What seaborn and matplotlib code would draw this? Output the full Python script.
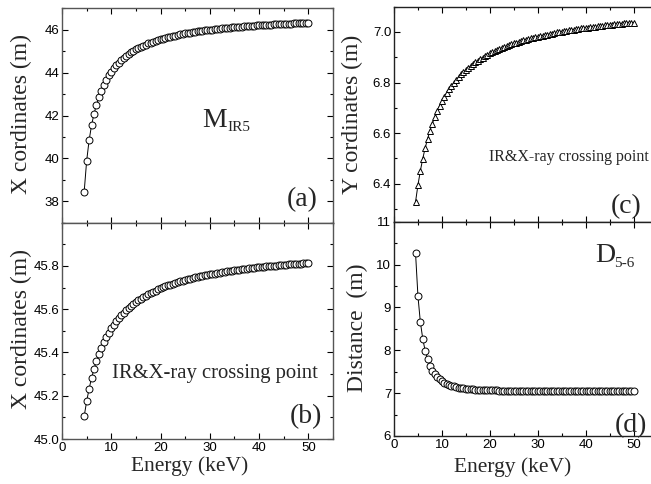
import matplotlib
matplotlib.use('Agg')
import matplotlib.pyplot as plt
import seaborn as sns
from matplotlib.ticker import MultipleLocator, FormatStrFormatter

sns.set_style('ticks')
plt.rcParams['font.family'] = ['Liberation Sans', 'DejaVu Sans']

# ---------------- data ----------------
energy = [4.5, 5.0, 5.5, 6.0, 6.5, 7.0, 7.5, 8.0, 8.5, 9.0,
          9.5, 10.0, 10.5, 11.0, 11.5, 12.0, 12.5, 13.0, 13.5, 14.0,
          14.5, 15.0, 15.5, 16.0, 16.5, 17.0, 17.5, 18.0, 18.5, 19.0,
          19.5, 20.0, 20.5, 21.0, 21.5, 22.0, 22.5, 23.0, 23.5, 24.0,
          24.5, 25.0, 25.5, 26.0, 26.5, 27.0, 27.5, 28.0, 28.5, 29.0,
          29.5, 30.0, 30.5, 31.0, 31.5, 32.0, 32.5, 33.0, 33.5, 34.0,
          34.5, 35.0, 35.5, 36.0, 36.5, 37.0, 37.5, 38.0, 38.5, 39.0,
          39.5, 40.0, 40.5, 41.0, 41.5, 42.0, 42.5, 43.0, 43.5, 44.0,
          44.5, 45.0, 45.5, 46.0, 46.5, 47.0, 47.5, 48.0, 48.5, 49.0,
          49.5, 50.0]

x_mir5 = [38.44, 39.88, 40.84, 41.55, 42.08, 42.51, 42.84, 43.16, 43.43, 43.66,
          43.87, 44.05, 44.20, 44.35, 44.47, 44.59, 44.69, 44.78, 44.87, 44.95,
          45.02, 45.09, 45.15, 45.21, 45.26, 45.31, 45.36, 45.40, 45.45, 45.49,
          45.52, 45.56, 45.59, 45.62, 45.65, 45.68, 45.71, 45.73, 45.76, 45.78,
          45.80, 45.83, 45.85, 45.87, 45.88, 45.90, 45.92, 45.94, 45.95, 45.97,
          45.98, 46.00, 46.01, 46.03, 46.04, 46.05, 46.06, 46.07, 46.09, 46.10,
          46.11, 46.12, 46.13, 46.14, 46.15, 46.16, 46.17, 46.17, 46.18, 46.19,
          46.20, 46.21, 46.21, 46.22, 46.23, 46.24, 46.24, 46.25, 46.26, 46.26,
          46.27, 46.28, 46.28, 46.29, 46.29, 46.30, 46.30, 46.31, 46.31, 46.32,
          46.32, 46.33]

x_cross = [45.105, 45.174, 45.232, 45.282, 45.324, 45.362, 45.394, 45.423, 45.449, 45.472,
           45.492, 45.511, 45.528, 45.544, 45.558, 45.572, 45.584, 45.595, 45.606, 45.616,
           45.625, 45.633, 45.641, 45.649, 45.656, 45.663, 45.669, 45.675, 45.681, 45.686,
           45.692, 45.697, 45.701, 45.706, 45.710, 45.714, 45.718, 45.722, 45.725, 45.729,
           45.732, 45.735, 45.738, 45.741, 45.744, 45.747, 45.749, 45.752, 45.754, 45.757,
           45.759, 45.761, 45.763, 45.765, 45.767, 45.769, 45.771, 45.773, 45.775, 45.777,
           45.778, 45.780, 45.781, 45.783, 45.785, 45.786, 45.787, 45.789, 45.790, 45.792,
           45.793, 45.794, 45.795, 45.796, 45.798, 45.799, 45.800, 45.801, 45.802, 45.803,
           45.804, 45.805, 45.806, 45.807, 45.808, 45.809, 45.810, 45.811, 45.811, 45.812,
           45.813, 45.814]

y_cross = [6.329, 6.395, 6.451, 6.499, 6.541, 6.577, 6.609, 6.638, 6.663, 6.686,
           6.707, 6.726, 6.743, 6.759, 6.773, 6.787, 6.799, 6.811, 6.822, 6.832,
           6.841, 6.850, 6.858, 6.866, 6.873, 6.880, 6.887, 6.893, 6.899, 6.904,
           6.910, 6.915, 6.920, 6.924, 6.929, 6.933, 6.937, 6.941, 6.944, 6.948,
           6.951, 6.955, 6.958, 6.961, 6.964, 6.967, 6.969, 6.972, 6.975, 6.977,
           6.980, 6.982, 6.984, 6.986, 6.988, 6.990, 6.992, 6.994, 6.996, 6.998,
           7.000, 7.001, 7.003, 7.005, 7.006, 7.008, 7.009, 7.011, 7.012, 7.014,
           7.015, 7.016, 7.017, 7.019, 7.020, 7.021, 7.022, 7.023, 7.025, 7.026,
           7.027, 7.028, 7.029, 7.030, 7.031, 7.032, 7.033, 7.034, 7.034, 7.035,
           7.036, 7.037]

distance = [10.26, 9.26, 8.66, 8.27, 7.99, 7.80, 7.64, 7.52, 7.44, 7.37,
            7.32, 7.28, 7.24, 7.21, 7.19, 7.17, 7.16, 7.14, 7.13, 7.12,
            7.11, 7.10, 7.10, 7.09, 7.09, 7.08, 7.08, 7.08, 7.07, 7.07,
            7.07, 7.07, 7.07, 7.07, 7.07, 7.06, 7.06, 7.06, 7.06, 7.06,
            7.06, 7.06, 7.06, 7.06, 7.06, 7.06, 7.06, 7.06, 7.06, 7.06,
            7.06, 7.06, 7.06, 7.06, 7.06, 7.06, 7.06, 7.06, 7.06, 7.06,
            7.06, 7.06, 7.06, 7.06, 7.06, 7.06, 7.06, 7.06, 7.06, 7.06,
            7.06, 7.06, 7.06, 7.06, 7.06, 7.06, 7.06, 7.06, 7.06, 7.06,
            7.06, 7.06, 7.06, 7.06, 7.06, 7.06, 7.06, 7.06, 7.06, 7.06,
            7.06, 7.06]

# ---------------- figure ----------------
W, H = 651, 484
fig = plt.figure(figsize=(W / 100, H / 100), dpi=100)
fig.patch.set_facecolor('white')


def add(l, t, r, b):
    return fig.add_axes([l / W, 1 - b / H, (r - l) / W, (b - t) / H])


ax_a = add(62, 8.3, 333, 222.7)
ax_b = add(62, 222.7, 333, 439)
ax_c = add(394, 6.7, 657.5, 221.7)
ax_d = add(394, 221.7, 657.5, 436)

SERIF = ['Liberation Serif', 'DejaVu Serif']


def draw(ax, y, marker, ms):
    sns.lineplot(x=energy, y=y, ax=ax, color='black', linewidth=0.7,
                 marker=marker, markersize=ms, markerfacecolor='white',
                 markeredgecolor='black', markeredgewidth=0.7,
                 estimator=None, sort=False)


draw(ax_a, x_mir5, 'o', 5.0)
draw(ax_b, x_cross, 'o', 5.0)
draw(ax_c, y_cross, '^', 5.0)
draw(ax_d, distance, 'o', 5.0)

for ax, sc in ((ax_a, '#555555'), (ax_b, '#555555'), (ax_c, '#222222'), (ax_d, '#222222')):
    ax.set_xlim(0, 55)
    ax.xaxis.set_major_locator(MultipleLocator(10))
    ax.xaxis.set_minor_locator(MultipleLocator(5))
    ax.tick_params(which='both', direction='in', top=True, right=True,
                   labelsize=9.5, colors='black')
    ax.tick_params(which='major', length=4, width=0.8, pad=2)
    ax.tick_params(which='minor', length=2.5, width=0.8)
    for s in ax.spines.values():
        s.set_color(sc)
        s.set_linewidth(1.0)
    ax.set_xlabel('')
    ax.set_ylabel('')

for ax in (ax_a, ax_c):
    ax.tick_params(labelbottom=False)

ax_a.set_ylim(37, 47)
ax_a.set_yticks([38, 40, 42, 44, 46])
ax_a.yaxis.set_minor_locator(MultipleLocator(1))

ax_b.set_ylim(45.0, 46.0)
ax_b.set_yticks([45.0, 45.2, 45.4, 45.6, 45.8])
ax_b.yaxis.set_minor_locator(MultipleLocator(0.1))
ax_b.yaxis.set_major_formatter(FormatStrFormatter('%.1f'))

ax_c.set_ylim(6.25, 7.1)
ax_c.set_yticks([6.4, 6.6, 6.8, 7.0])
ax_c.yaxis.set_minor_locator(MultipleLocator(0.1))
ax_c.yaxis.set_major_formatter(FormatStrFormatter('%.1f'))

ax_d.set_ylim(6, 11)
ax_d.set_yticks([6, 7, 8, 9, 10, 11])
ax_d.yaxis.set_minor_locator(MultipleLocator(0.5))

# axis labels
ax_a.set_ylabel('X cordinates (m)', fontfamily=SERIF, fontsize=17)
ax_a.yaxis.set_label_coords(-0.111, 0.509)
ax_b.set_ylabel('X cordinates (m)', fontfamily=SERIF, fontsize=17)
ax_b.yaxis.set_label_coords(-0.111, 0.508)
ax_c.set_ylabel('Y cordinates (m)', fontfamily=SERIF, fontsize=17)
ax_c.yaxis.set_label_coords(-0.1165, 0.5)
ax_d.set_ylabel('Distance  (m)', fontfamily=SERIF, fontsize=17)
ax_d.yaxis.set_label_coords(-0.099, 0.504)
ax_b.set_xlabel('Energy (keV)', fontfamily=SERIF, fontsize=15.5)
ax_b.xaxis.set_label_coords(0.472, -0.078)
ax_d.set_xlabel('Energy (keV)', fontfamily=SERIF, fontsize=15.5)
ax_d.xaxis.set_label_coords(0.45, -0.1)

# panel letters
ax_a.text(0.945, 0.078, '(a)', transform=ax_a.transAxes, ha='right',
          va='baseline', fontfamily=SERIF, fontsize=20)
ax_b.text(0.959, 0.073, '(b)', transform=ax_b.transAxes, ha='right',
          va='baseline', fontfamily=SERIF, fontsize=20)
ax_c.text(0.94, 0.04, '(c)', transform=ax_c.transAxes, ha='right',
          va='baseline', fontfamily=SERIF, fontsize=20)
ax_d.text(0.959, 0.02, '(d)', transform=ax_d.transAxes, ha='right',
          va='baseline', fontfamily=SERIF, fontsize=20)


def ptext(x, y, s, size):
    fig.text(x / W, 1 - y / H, s, ha='left', va='baseline',
             fontfamily=SERIF, fontsize=size)


# M_IR5 and D_5-6 (main letter + smaller subscript)
ptext(202, 127, 'M', 20)
ptext(227, 131, 'IR5', 11)
ptext(595, 262, 'D', 20)
ptext(614, 267, '5-6', 11)

ax_b.text(0.183, 0.281, 'IR&X-ray crossing point', transform=ax_b.transAxes,
          ha='left', va='baseline', fontfamily=SERIF, fontsize=14.9)
ax_c.text(0.36, 0.28, 'IR&X-ray crossing point', transform=ax_c.transAxes,
          ha='left', va='baseline', fontfamily=SERIF, fontsize=11.5)

fig.savefig('out.png', dpi=100)
